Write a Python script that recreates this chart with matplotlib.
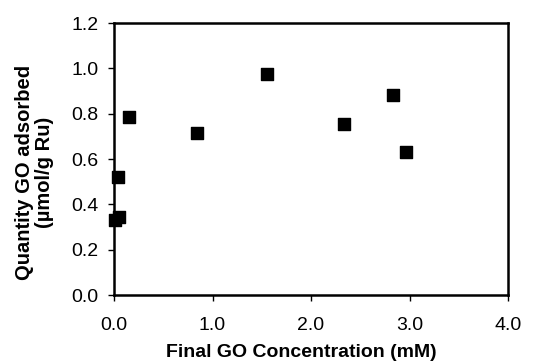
import matplotlib
matplotlib.use("Agg")
import matplotlib.pyplot as plt

conc = [0.01, 0.05, 0.04, 0.156, 0.846, 1.556, 2.335, 2.836, 2.964]
qty = [0.33, 0.345, 0.52, 0.784, 0.713, 0.975, 0.753, 0.881, 0.631]
xticks = [0.0, 1.0, 2.0, 3.0, 4.0]
yticks = [0.0, 0.2, 0.4, 0.6, 0.8, 1.0, 1.2]

plt.rcParams['font.family'] = ['Liberation Sans', 'DejaVu Sans']
fig = plt.figure(figsize=(5.43, 3.62), dpi=100)
ax = fig.add_axes([114/543, 1-295/362, (508-114)/543, (295-23)/362])
ax.scatter(conc, qty, marker='s', s=80, color='black', zorder=3, clip_on=False)
ax.set_xlim(0, 4)
ax.set_ylim(0, 1.2)
ax.set_xticks(xticks)
ax.set_xticklabels([f"{v:.1f}" for v in xticks])
ax.set_yticks(yticks)
ax.set_yticklabels([f"{v:.1f}" for v in yticks])
for s in ax.spines.values():
    s.set_linewidth(1.8)
ax.tick_params(direction='out', length=4, width=1, labelsize=14)
ax.tick_params(axis='x', pad=12)
ax.tick_params(axis='y', pad=7)
ax.set_xlabel("Final GO Concentration (mM)", fontsize=14, fontweight='bold')
ax.xaxis.set_label_coords(0.475, -0.18)
ax.set_ylabel("Quantity GO adsorbed\n(µmol/g Ru)", fontsize=14.5, fontweight='bold', linespacing=1.05)
ax.yaxis.set_label_coords(-0.152, 0.45)
fig.savefig("out.png", dpi=100)
